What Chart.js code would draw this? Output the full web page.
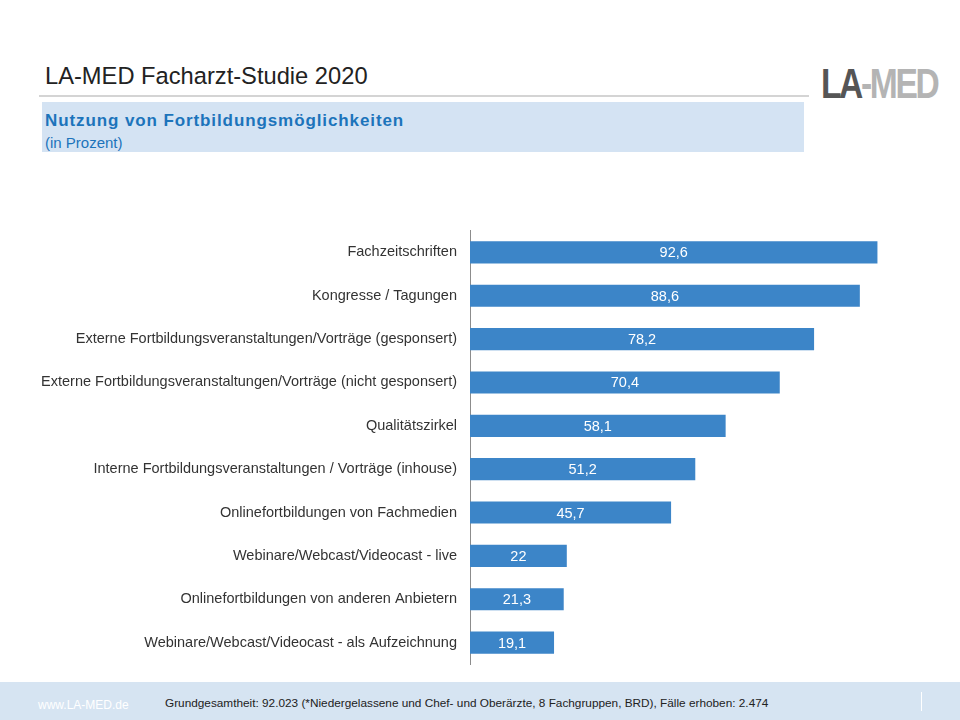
<!DOCTYPE html>
<html lang="de">
<head>
    <meta charset="UTF-8">
    <title>LA-MED Facharzt-Studie 2020</title>
    <script src="https://cdn.jsdelivr.net/npm/chart.js"></script>
    <style>
        html, body {
            margin: 0;
            padding: 0;
            width: 960px;
            height: 720px;
            overflow: hidden;
            background: #ffffff;
            font-family: 'Liberation Sans', Arial, sans-serif;
        }
        .title {
            position: absolute;
            left: 45px;
            top: 63px;
            font-size: 23.7px;
            color: #222222;
            white-space: nowrap;
        }
        .rule {
            position: absolute;
            left: 39px;
            top: 95px;
            width: 770px;
            height: 2px;
            background: #d4d4d4;
        }
        .logo {
            position: absolute;
            left: 821px;
            top: 60px;
            font-family: 'Liberation Sans Narrow', 'Liberation Sans', sans-serif;
            font-weight: bold;
            font-size: 42px;
            letter-spacing: -3px;
            transform: scaleX(0.8);
            transform-origin: left top;
            white-space: nowrap;
        }
        .logo .la { color: #555555; }
        .logo .med { color: #b4b4b4; }
        .box {
            position: absolute;
            left: 42px;
            top: 102px;
            width: 762px;
            height: 50px;
            background: #d4e3f3;
        }
        .box .head {
            position: absolute;
            left: 3px;
            top: 9px;
            font-size: 17px;
            letter-spacing: 0.9px;
            font-weight: bold;
            color: #1c74bb;
            white-space: nowrap;
        }
        .box .sub {
            position: absolute;
            left: 3px;
            top: 32px;
            font-size: 15px;
            color: #1c74bb;
            white-space: nowrap;
        }
        #chart {
            position: absolute;
            left: 0;
            top: 209px;
        }
        .footer {
            position: absolute;
            left: 0;
            top: 682px;
            width: 960px;
            height: 38px;
            background: #d6e4f2;
        }
        .footer .www {
            position: absolute;
            left: 38px;
            top: 16px;
            font-size: 12px;
            color: #ffffff;
        }
        .footer .note {
            position: absolute;
            left: 165px;
            top: 14px;
            font-size: 11.8px;
            color: #222222;
            white-space: nowrap;
        }
        .footer .bar {
            position: absolute;
            left: 921px;
            top: 10px;
            width: 1px;
            height: 19px;
            background: #ffffff;
        }
    </style>
</head>
<body>

    <div class="title">LA-MED Facharzt-Studie 2020</div>
    <div class="rule"></div>
    <div class="logo"><span class="la">LA</span><span class="med">-MED</span></div>

    <div class="box">
        <div class="head">Nutzung von Fortbildungsmöglichkeiten</div>
        <div class="sub">(in Prozent)</div>
    </div>

    <canvas id="chart" width="960" height="477"></canvas>

    <div class="footer">
        <div class="www">www.LA-MED.de</div>
        <div class="note">Grundgesamtheit: 92.023 (*Niedergelassene und Chef- und Oberärzte, 8 Fachgruppen, BRD), Fälle erhoben: 2.474</div>
        <div class="bar"></div>
    </div>

    <script>
        // data
        const categories = [
            'Fachzeitschriften',
            'Kongresse / Tagungen',
            'Externe Fortbildungsveranstaltungen/Vorträge (gesponsert)',
            'Externe Fortbildungsveranstaltungen/Vorträge (nicht gesponsert)',
            'Qualitätszirkel',
            'Interne Fortbildungsveranstaltungen / Vorträge (inhouse)',
            'Onlinefortbildungen von Fachmedien',
            'Webinare/Webcast/Videocast - live',
            'Onlinefortbildungen von anderen Anbietern',
            'Webinare/Webcast/Videocast - als Aufzeichnung'
        ];
        const values = [92.6, 88.6, 78.2, 70.4, 58.1, 51.2, 45.7, 22, 21.3, 19.1];

        const fmt = v => String(v).replace('.', ',');

        // white value labels centred inside each bar
        const barLabels = {
            id: 'barLabels',
            afterDatasetsDraw(chart) {
                const ctx = chart.ctx;
                const meta = chart.getDatasetMeta(0);
                ctx.save();
                ctx.fillStyle = '#ffffff';
                ctx.font = '14.5px "Liberation Sans", Arial, sans-serif';
                ctx.textAlign = 'center';
                ctx.textBaseline = 'middle';
                meta.data.forEach((bar, i) => {
                    const cx = (bar.x + bar.base) / 2;
                    ctx.fillText(fmt(values[i]), cx, bar.y + 1);
                });
                ctx.restore();
            }
        };

        new Chart(document.getElementById('chart'), {
            type: 'bar',
            data: {
                labels: categories,
                datasets: [{
                    data: values,
                    backgroundColor: '#3c85c8',
                    borderWidth: 0,
                    categoryPercentage: 1,
                    barPercentage: 0.51
                }]
            },
            options: {
                indexAxis: 'y',
                responsive: false,
                animation: false,
                devicePixelRatio: 1,
                layout: {
                    padding: { left: 0, right: 50, top: 0, bottom: 0 }
                },
                scales: {
                    x: {
                        display: false,
                        min: 0,
                        max: 100
                    },
                    y: {
                        afterFit(scale) { scale.width = 470; },
                        grid: { display: false, drawTicks: false },
                        border: { display: true, color: '#8c8c8c', width: 1 },
                        ticks: {
                            padding: 13,
                            color: '#333333',
                            font: { family: '"Liberation Sans", Arial, sans-serif', size: 14.5 }
                        }
                    }
                },
                plugins: {
                    legend: { display: false },
                    tooltip: { enabled: false }
                }
            },
            plugins: [barLabels]
        });
    </script>
</body>
</html>
